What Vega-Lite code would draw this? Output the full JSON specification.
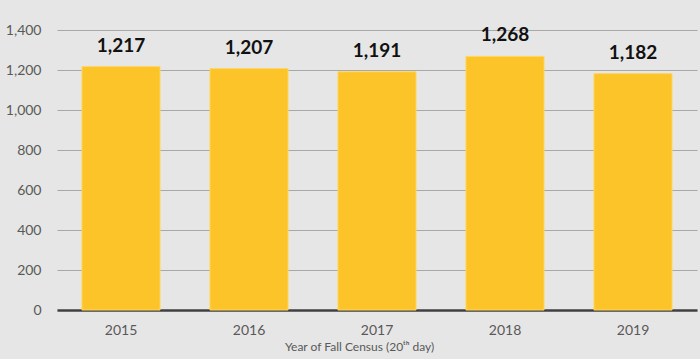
{
  "$schema": "https://vega.github.io/schema/vega-lite/v6.json",
  "width": 700,
  "height": 359,
  "autosize": {"type": "fit", "contains": "padding"},
  "padding": {"left": 5, "top": 23, "right": 3, "bottom": 7},
  "background": "#e6e6e6",
  "config": {
    "view": {"stroke": null},
    "font": "Lato"
  },
  "data": {
    "values": [
      {"year": "2015", "count": 1217},
      {"year": "2016", "count": 1207},
      {"year": "2017", "count": 1191},
      {"year": "2018", "count": 1268},
      {"year": "2019", "count": 1182}
    ]
  },
  "encoding": {
    "x": {
      "field": "year",
      "type": "ordinal",
      "scale": {"paddingInner": 0.39, "paddingOuter": 0.195},
      "axis": {
        "title": "Year of Fall Census (20ᵗʰ day)",
        "titleFont": "Lato",
        "titleFontSize": 12,
        "titleFontWeight": "normal",
        "titleColor": "#595959",
        "titlePadding": 4,
        "titleX": 302,
        "labelAngle": 0,
        "labelFontSize": 14,
        "labelColor": "#595959",
        "labelPadding": 13,
        "ticks": false,
        "domainColor": "#404040",
        "domainWidth": 2.5,
        "domainCap": "butt"
      }
    },
    "y": {
      "field": "count",
      "type": "quantitative",
      "scale": {"domain": [0, 1400]},
      "axis": {
        "title": null,
        "values": [0, 200, 400, 600, 800, 1000, 1200, 1400],
        "format": ",d",
        "labelFontSize": 14,
        "labelColor": "#595959",
        "labelPadding": 16,
        "ticks": false,
        "domain": false,
        "gridColor": "#a8a8a8",
        "gridWidth": 1
      }
    }
  },
  "layer": [
    {
      "mark": {"type": "bar", "color": "#fcc429", "stroke": "#fdd763", "strokeWidth": 1}
    },
    {
      "mark": {"type": "text", "baseline": "bottom", "dy": -11, "fontSize": 19, "fontWeight": "bold", "color": "#111111", "font": "Lato"},
      "encoding": {
        "text": {"field": "count", "type": "quantitative", "format": ",d"}
      }
    }
  ]
}
